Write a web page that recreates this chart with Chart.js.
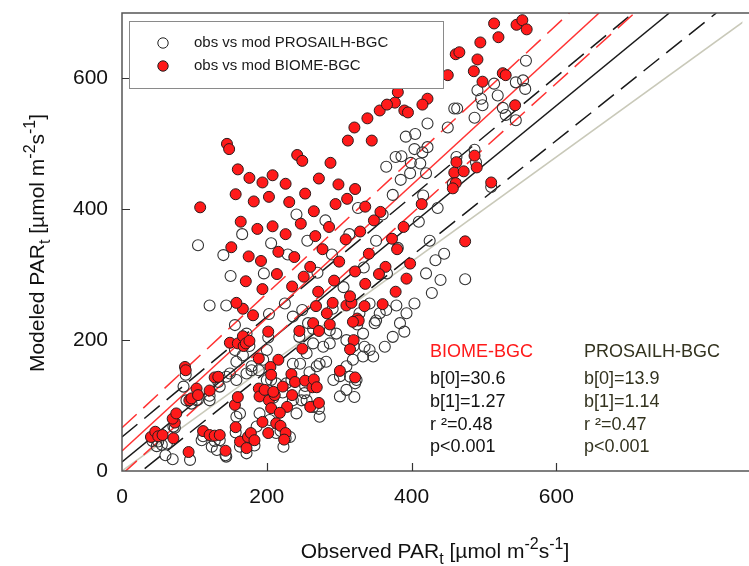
<!DOCTYPE html>
<html>
<head>
<meta charset="utf-8">
<script src="https://cdn.jsdelivr.net/npm/chart.js@4.4.1/dist/chart.umd.min.js"></script>
<style>
    html, body { margin: 0; padding: 0; background: #fff; overflow: hidden; }
    canvas { display: block; }
</style>
</head>
<body>
<canvas id="parChart" width="749" height="566"></canvas>
<script>
// ===== Данные (observed, modeled) =====
const biomePoints = [
    // нижняя группа
    [40,52],[46,60],[50,53],[56,55],[71,50],[73,74],[70,80],[75,88],[87,159],[88,154],[93,108],[96,111],[103,126],[105,116],
    [121,123],[128,143],[133,144],[112,61],[121,55],[128,54],[135,55],[143,31],[92,29],[157,67],[156,101],[160,113],[163,45],
    [172,35],[174,52],[178,58],[183,47],[149,196],[160,195],[167,206],[168,191],[171,195],[176,199],[181,238],[167,248],[158,257],
    [189,172],[202,213],[216,170],[205,159],[206,147],[189,126],[190,114],[197,124],[203,108],[206,96],[211,116],[209,121],
    [222,129],[234,148],[239,136],[235,116],[228,98],[218,89],[213,73],[219,69],[202,58],[194,75],[226,58],[224,48],[245,214],
    [249,187],[253,138],[263,128],[265,140],[269,128],[260,98],[272,104],[301,153],[264,226],[272,214],[283,241],[287,224],
    [268,252],[291,257],[310,253],[317,257],[335,252],[325,233],[327,230],[319,228],[320,200],[315,186],[322,143],[360,255],
    // верхняя левая группа
    [145,500],[148,492],[242,483],[249,474],[288,471],[160,461],[176,448],[194,441],[208,452],[226,439],[272,447],[299,438],[322,431],
    [108,403],[157,423],[182,412],[203,419],[231,411],[253,424],[265,397],[295,408],[311,416],[336,404],[357,396],
    [164,381],[187,370],[208,374],[226,362],[247,378],[267,359],[286,373],[309,354],[329,366],[348,383],[373,355],[389,373],
    [151,342],[175,328],[192,321],[216,335],[238,327],[260,312],[277,339],[300,320],[322,305],[341,332],[364,312],[380,339],[398,317],
    [171,290],[194,278],[214,301],[235,282],[251,297],[271,274],[293,291],[315,267],[336,286],[355,301],[378,274],[393,294],
    [321,525],[339,539],[356,551],[377,563],[390,551],[312,505],[345,505],[381,579],[402,598],[395,548],[366,560],
    // верхняя правая группа
    [514,684],[545,682],[553,689],[559,675],[520,663],[495,655],[461,637],[466,640],[491,629],[486,611],[526,608],[530,605],
    [498,595],[450,605],[422,569],[415,560],[543,559],[462,472],[459,456],[472,458],[490,464],[487,482],[461,440],[457,432],
    [510,441],[414,408],[474,351]
];

const prosailPoints = [
    [121,253],[144,253],[156,223],[172,210],[156,185],[158,167],[167,177],[179,154],[200,185],[195,170],[189,154],[203,240],
    [225,256],[236,236],[249,246],[257,226],[264,195],[273,164],[282,167],[287,195],[292,139],[301,114],[321,113],[310,124],
    [319,170],[335,190],[347,175],[333,210],[349,226],[356,241],[363,190],[374,205],[384,226],[390,213],[393,241],[404,256],
    [264,98],[273,83],[255,108],[241,88],[232,52],[223,37],[213,58],[204,78],[190,88],[186,68],[163,88],[158,83],[135,47],
    [131,32],[124,37],[110,47],[94,17],[144,22],[172,27],[55,40],[50,45],[62,42],[71,68],[85,129],[89,108],[103,108],[121,108],
    [135,129],[144,144],[149,149],[158,139],[172,149],[179,160],[236,108],[248,108],[252,119],[259,151],[269,160],[246,164],
    [255,180],[278,190],[296,210],[310,200],[328,241],[342,256],[351,230],[365,246],[379,253],[200,139],[213,134],[227,134],
    [236,164],[310,160],[315,144],[324,139],[333,175],[342,185],
    // рядом с красными
    [73,66],[88,147],[96,103],[105,109],[121,115],[133,136],[112,53],[128,46],[143,24],[157,59],[163,37],[178,50],[183,39],
    [167,197],[176,191],[202,204],[206,139],[209,112],[222,120],[234,139],[219,61],[226,50],[245,205],[253,130],[265,131],
    [272,95],[301,145],[264,217],[287,215],[291,248],[325,224],[320,191],[322,134],[42,46],[48,38],[60,24],[70,18],
    // верх
    [105,345],[140,330],[150,298],[166,362],[196,302],[206,348],[229,331],[241,392],[256,352],[270,303],[281,383],[290,331],
    [306,281],[314,362],[326,402],[334,311],[351,352],[360,392],[366,302],[374,422],[381,341],[386,481],[392,511],[399,471],
    [404,492],[410,381],[416,421],[420,302],[425,352],[428,272],[433,322],[436,402],[440,292],[445,332],
    [378,480],[405,515],[412,470],[398,455],[385,445],[420,455],[365,465],
    [558,627],[491,582],[514,592],[519,574],[496,569],[498,559],[544,594],[554,597],[557,584],[526,555],[530,544],[544,536],
    [487,540],[450,525],[422,531],[422,495],[415,487],[463,554],[459,554],[462,480],[487,491],[489,472],[510,434],[457,439],
    [474,293]
];

// Линии: концы (observed) и (modeled)
const lineOneX = [0, 865],      lineOneY = [0, 692];
const biomeFitX = [0, 659],     biomeFitY = [30.6, 700];
const biomeUpX = [0, 618],      biomeUpY = [66, 700];
const biomeLowX = [0, 708],     biomeLowY = [-5, 700];
const prosailFitX = [0, 756],   prosailFitY = [13.9, 700];
const prosailUpX = [0, 706],    prosailUpY = [52, 700];
const prosailLowX = [0, 821],   prosailLowY = [-24, 700];

const xTickValues = [0, 200, 400, 600];
const yTickValues = [0, 200, 400, 600];

const biomeStats = ['BIOME-BGC', 'b[0]=30.6', 'b[1]=1.27', 'r \u00b2=0.48', 'p<0.001'];
const prosailStats = ['PROSAILH-BGC', 'b[0]=13.9', 'b[1]=1.14', 'r \u00b2=0.47', 'p<0.001'];

// ===== Помощники =====
const FONT = '"Liberation Sans", Arial, sans-serif';
const RED = '#ff1a1a';

function toXY(xs, ys) {
    return xs.map((v, i) => ({ x: v, y: ys[i] }));
}

function lineSet(xs, ys, color, dash, order) {
    return {
        type: 'line',
        data: toXY(xs, ys),
        borderColor: color,
        borderWidth: 1.5,
        borderDash: dash,
        pointRadius: 0,
        fill: false,
        tension: 0,
        order: order
    };
}

function drawRich(ctx, parts, x, y, size, align) {
    const fontFor = k => (k ? Math.round(size * 0.78) : size) + 'px ' + FONT;
    let w = 0;
    parts.forEach(p => { ctx.font = fontFor(p[1]); w += ctx.measureText(p[0]).width; });
    let cx = align === 'center' ? x - w / 2 : x;
    parts.forEach(p => {
        ctx.font = fontFor(p[1]);
        const dy = p[1] === 'sub' ? size * 0.28 : p[1] === 'sup' ? -size * 0.42 : 0;
        ctx.fillText(p[0], cx, y + dy);
        cx += ctx.measureText(p[0]).width;
    });
}

const titleParts = name => [
    [name + ' PAR', ''], ['t', 'sub'], [' [\u00b5mol m', ''], ['-2', 'sup'], ['s', ''], ['-1', 'sup'], [']', '']
];

// рамка, засечки внутрь, подписи осей, легенда, статистика
const decorPlugin = {
    id: 'decor',
    afterDatasetsDraw(chart) {
        const { ctx, chartArea: a, scales } = chart;
        const x = scales.x, y = scales.y;
        ctx.save();
        ctx.strokeStyle = '#555';
        ctx.lineWidth = 1.5;
        ctx.beginPath();
        ctx.moveTo(a.right + 10, a.top);
        ctx.lineTo(a.left, a.top);
        ctx.lineTo(a.left, a.bottom);
        ctx.lineTo(a.right + 10, a.bottom);
        ctx.stroke();

        ctx.strokeStyle = '#333';
        ctx.lineWidth = 1.2;
        ctx.beginPath();
        xTickValues.slice(1).forEach(v => {
            const px = Math.round(x.getPixelForValue(v)) + 0.5;
            ctx.moveTo(px, a.bottom);
            ctx.lineTo(px, a.bottom - 8);
        });
        yTickValues.slice(1).forEach(v => {
            const py = Math.round(y.getPixelForValue(v)) + 0.5;
            ctx.moveTo(a.left, py);
            ctx.lineTo(a.left + 8, py);
        });
        ctx.stroke();

        // легенда
        ctx.strokeStyle = '#8a8a8a';
        ctx.lineWidth = 1;
        ctx.fillStyle = '#fff';
        ctx.fillRect(129.5, 21.5, 314, 67);
        ctx.strokeRect(129.5, 21.5, 314, 67);
        ctx.strokeStyle = '#222';
        ctx.beginPath();
        ctx.arc(163, 43, 5.2, 0, Math.PI * 2);
        ctx.stroke();
        ctx.beginPath();
        ctx.arc(163, 66, 5.2, 0, Math.PI * 2);
        ctx.fillStyle = RED;
        ctx.fill();
        ctx.stroke();
        ctx.fillStyle = '#1a1a1a';
        ctx.font = '15px ' + FONT;
        ctx.textBaseline = 'middle';
        ctx.fillText('obs vs mod PROSAILH-BGC', 194, 43);
        ctx.fillText('obs vs mod BIOME-BGC', 194, 66);

        // статистика
        ctx.textBaseline = 'alphabetic';
        ctx.font = '18px ' + FONT;
        const rows = [357, 384, 407, 430, 452];
        biomeStats.forEach((t, i) => {
            ctx.fillStyle = i === 0 ? RED : '#111';
            ctx.fillText(t, 430, rows[i]);
        });
        ctx.fillStyle = '#33331f';
        prosailStats.forEach((t, i) => ctx.fillText(t, 584, rows[i]));

        // подписи осей
        ctx.fillStyle = '#111';
        drawRich(ctx, titleParts('Observed'), 435, 558, 21, 'center');
        ctx.translate(44, 243);
        ctx.rotate(-Math.PI / 2);
        drawRich(ctx, titleParts('Modeled'), 0, 0, 21, 'center');
        ctx.restore();
    }
};

// ===== График =====
Chart.defaults.font.family = FONT;
Chart.defaults.animation = false;

const ctx = document.getElementById('parChart').getContext('2d');
new Chart(ctx, {
    type: 'scatter',
    data: {
        datasets: [
            {
                label: 'obs vs mod BIOME-BGC',
                data: biomePoints.map(p => ({ x: p[0], y: p[1] })),
                pointRadius: 5.5,
                pointBackgroundColor: RED,
                pointBorderColor: '#2a1a1a',
                pointBorderWidth: 1,
                order: 0
            },
            {
                label: 'obs vs mod PROSAILH-BGC',
                data: prosailPoints.map(p => ({ x: p[0], y: p[1] })),
                pointRadius: 5.5,
                pointBackgroundColor: 'rgba(255,255,255,0)',
                pointBorderColor: '#333',
                pointBorderWidth: 1.1,
                order: 1
            },
            lineSet(lineOneX, lineOneY, '#c9c9b9', [], 5),
            lineSet(prosailFitX, prosailFitY, '#1a1a1a', [], 4),
            lineSet(prosailUpX, prosailUpY, '#1a1a1a', [20, 9], 4),
            lineSet(prosailLowX, prosailLowY, '#1a1a1a', [20, 9], 4),
            lineSet(biomeFitX, biomeFitY, '#ff3333', [], 3),
            lineSet(biomeUpX, biomeUpY, '#ff3333', [20, 9], 3),
            lineSet(biomeLowX, biomeLowY, '#ff3333', [20, 9], 3)
        ]
    },
    options: {
        responsive: false,
        devicePixelRatio: 1,
        layout: { padding: { top: 13, right: 0, left: 0, bottom: 0 } },
        plugins: {
            legend: { display: false },
            tooltip: { enabled: false }
        },
        scales: {
            x: {
                type: 'linear',
                min: 0,
                max: 857,
                afterBuildTicks: s => { s.ticks = xTickValues.map(v => ({ value: v })); },
                afterFit: s => { s.height = 95; },
                grid: { display: false, drawTicks: false },
                border: { display: false },
                ticks: { font: { size: 21 }, color: '#111', padding: 14, maxRotation: 0 }
            },
            y: {
                min: 0,
                max: 700,
                afterBuildTicks: s => { s.ticks = yTickValues.map(v => ({ value: v })); },
                afterFit: s => { s.width = 122; s.paddingTop = 0; s.paddingBottom = 0; },
                grid: { display: false, drawTicks: false },
                border: { display: false },
                ticks: { font: { size: 21 }, color: '#111', padding: 14 }
            }
        }
    },
    plugins: [decorPlugin]
});
</script>
</body>
</html>
